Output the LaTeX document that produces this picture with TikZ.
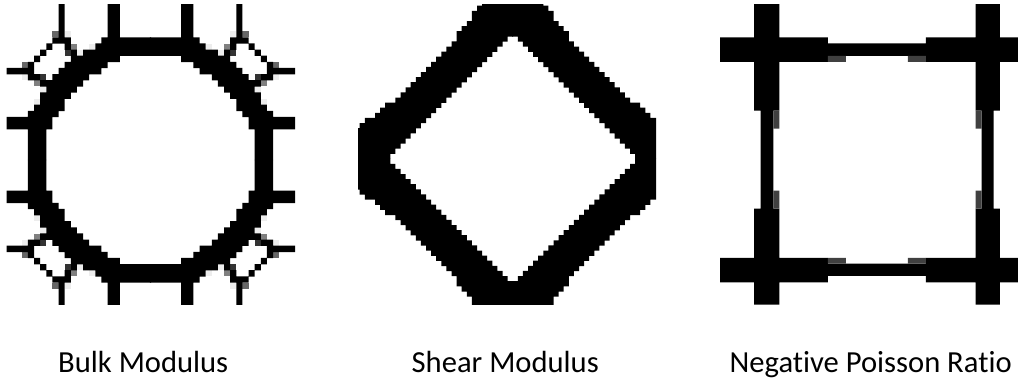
\documentclass[tikz,border=0pt]{standalone}
\usepackage{fontspec}
\setmainfont{Carlito}[Ligatures=NoCommon]
\tikzset{
  blk/.style={fill=black},
  lattice/.style={x=6.13pt,y=6.13pt},
  caption/.style={anchor=base west,inner sep=0pt,font=\fontsize{30.6pt}{36pt}\selectfont,text=black}
}
\begin{document}
\begin{tikzpicture}[x=1pt,y=-1pt]
\useasboundingbox (0,0) rectangle (1018,381);
\fill[white] (0,0) rectangle (1018,381);
% ---------- Bulk modulus
\begin{scope}
\clip (6.7,4) rectangle (295,304.7);
\foreach \sx in {-1,1}{\foreach \sy in {-1,1}{
 \begin{scope}[shift={(150.5,160)},lattice,xscale=\sx,yscale=\sy]
  \foreach \i/\j/\g in {15/20/60,13/20/7,12/18/50,13/17/80,11/17/7,9/18/7,17/11/7,18/9/7,20/15/60,20/13/7,18/12/50,17/13/80}
    {\fill[black!\g] (\i,\j) rectangle (\i+1,\j+1);}
  \fill[black]
   \foreach \j/\a/\b in {26/5/7,25/5/7,24/5/7,23/5/7,22/5/7,21/5/7,20/5/7,
     26/14/15,25/14/15,24/14/15,23/14/15,22/14/15,21/14/15,20/14/15,
     19/-.1/8,19/13/16,18/-.1/9,18/13/14,18/16/17,17/-.1/11,17/12/13,17/17/18,
     16/5/13,16/18/19,15/7/14,15/19/20,14/8/15,14/19/25,13/10/16,13/18/20,
     12/11/18,11/12/17,10/13/18,9/14/18,8/14/19,7/15/20,6/16/25,5/16/25,
     4/17/20,3/17/20,2/17/20,1/17/20,0/17/20}
   { (\a,\j-.02) rectangle (\b,\j+1.02) };
  \fill[black] (17,-.1) rectangle (20,1);
 \end{scope}
}}
\end{scope}
% ---------- Shear modulus
\begin{scope}
\clip (358,4) rectangle (656,304.7);
\foreach \sx in {-1,1}{\foreach \sy in {-1,1}{
 \begin{scope}[shift={(512.7,158.8)},x=5.1pt,y=5.1pt,xscale=\sx,yscale=\sy]
  \fill[black]
   \foreach \r/\xo/\xi in {0/31/24,1/31/23,2/31/22,3/31/21,4/31/20,5/31/19,6/30/18,7/29/17,8/27/16,9/26/15,
     10/25/14,11/23/13,12/22/12,13/21/11,14/20/10,15/19/9,16/18/8,17/17/7,18/16/6,19/15/5,
     20/14/4,21/13/3,22/12/2,23/11/1,24/11/-.1,25/10/-.1,26/9/-.1,27/8/-.1,28/8/-.1,29/7/-.1,30/6/-.1,31/5/-.1}
   { (\xi,\r-.02) rectangle (\xo,\r+1.02) };
 \end{scope}
}}
\end{scope}
% ---------- Negative Poisson ratio
\begin{scope}[shift={(700,0)},x=.3333pt,y=-.3333pt]
 \fill[black] (162,12) rectangle (238,332) (60,112) rectangle (384,186)
   (384,130) rectangle (678,168) (678,112) rectangle (954,186)
   (827,12) rectangle (900,332)
   (182,332) rectangle (220,626) (845,332) rectangle (881,626)
   (162,626) rectangle (238,914) (827,626) rectangle (900,914)
   (60,774) rectangle (384,847) (384,791) rectangle (678,828) (678,774) rectangle (954,847);
 \fill[black!75] (384,168) rectangle (438,186) (624,168) rectangle (678,186)
   (384,774) rectangle (438,791) (624,774) rectangle (678,791)
   (220,332) rectangle (238,386) (220,572) rectangle (238,626)
   (827,332) rectangle (845,386) (827,572) rectangle (845,626);
\end{scope}
% ---------- captions
\node[caption] (bulk) at (58,372.7) {Bulk Modulus};
\node[caption] (shear) at (411.5,372.7) {Shear Modulus};
\node[caption] (npr) at (729.5,372.7) {Negative Poisson Ratio};
\end{tikzpicture}
\end{document}
